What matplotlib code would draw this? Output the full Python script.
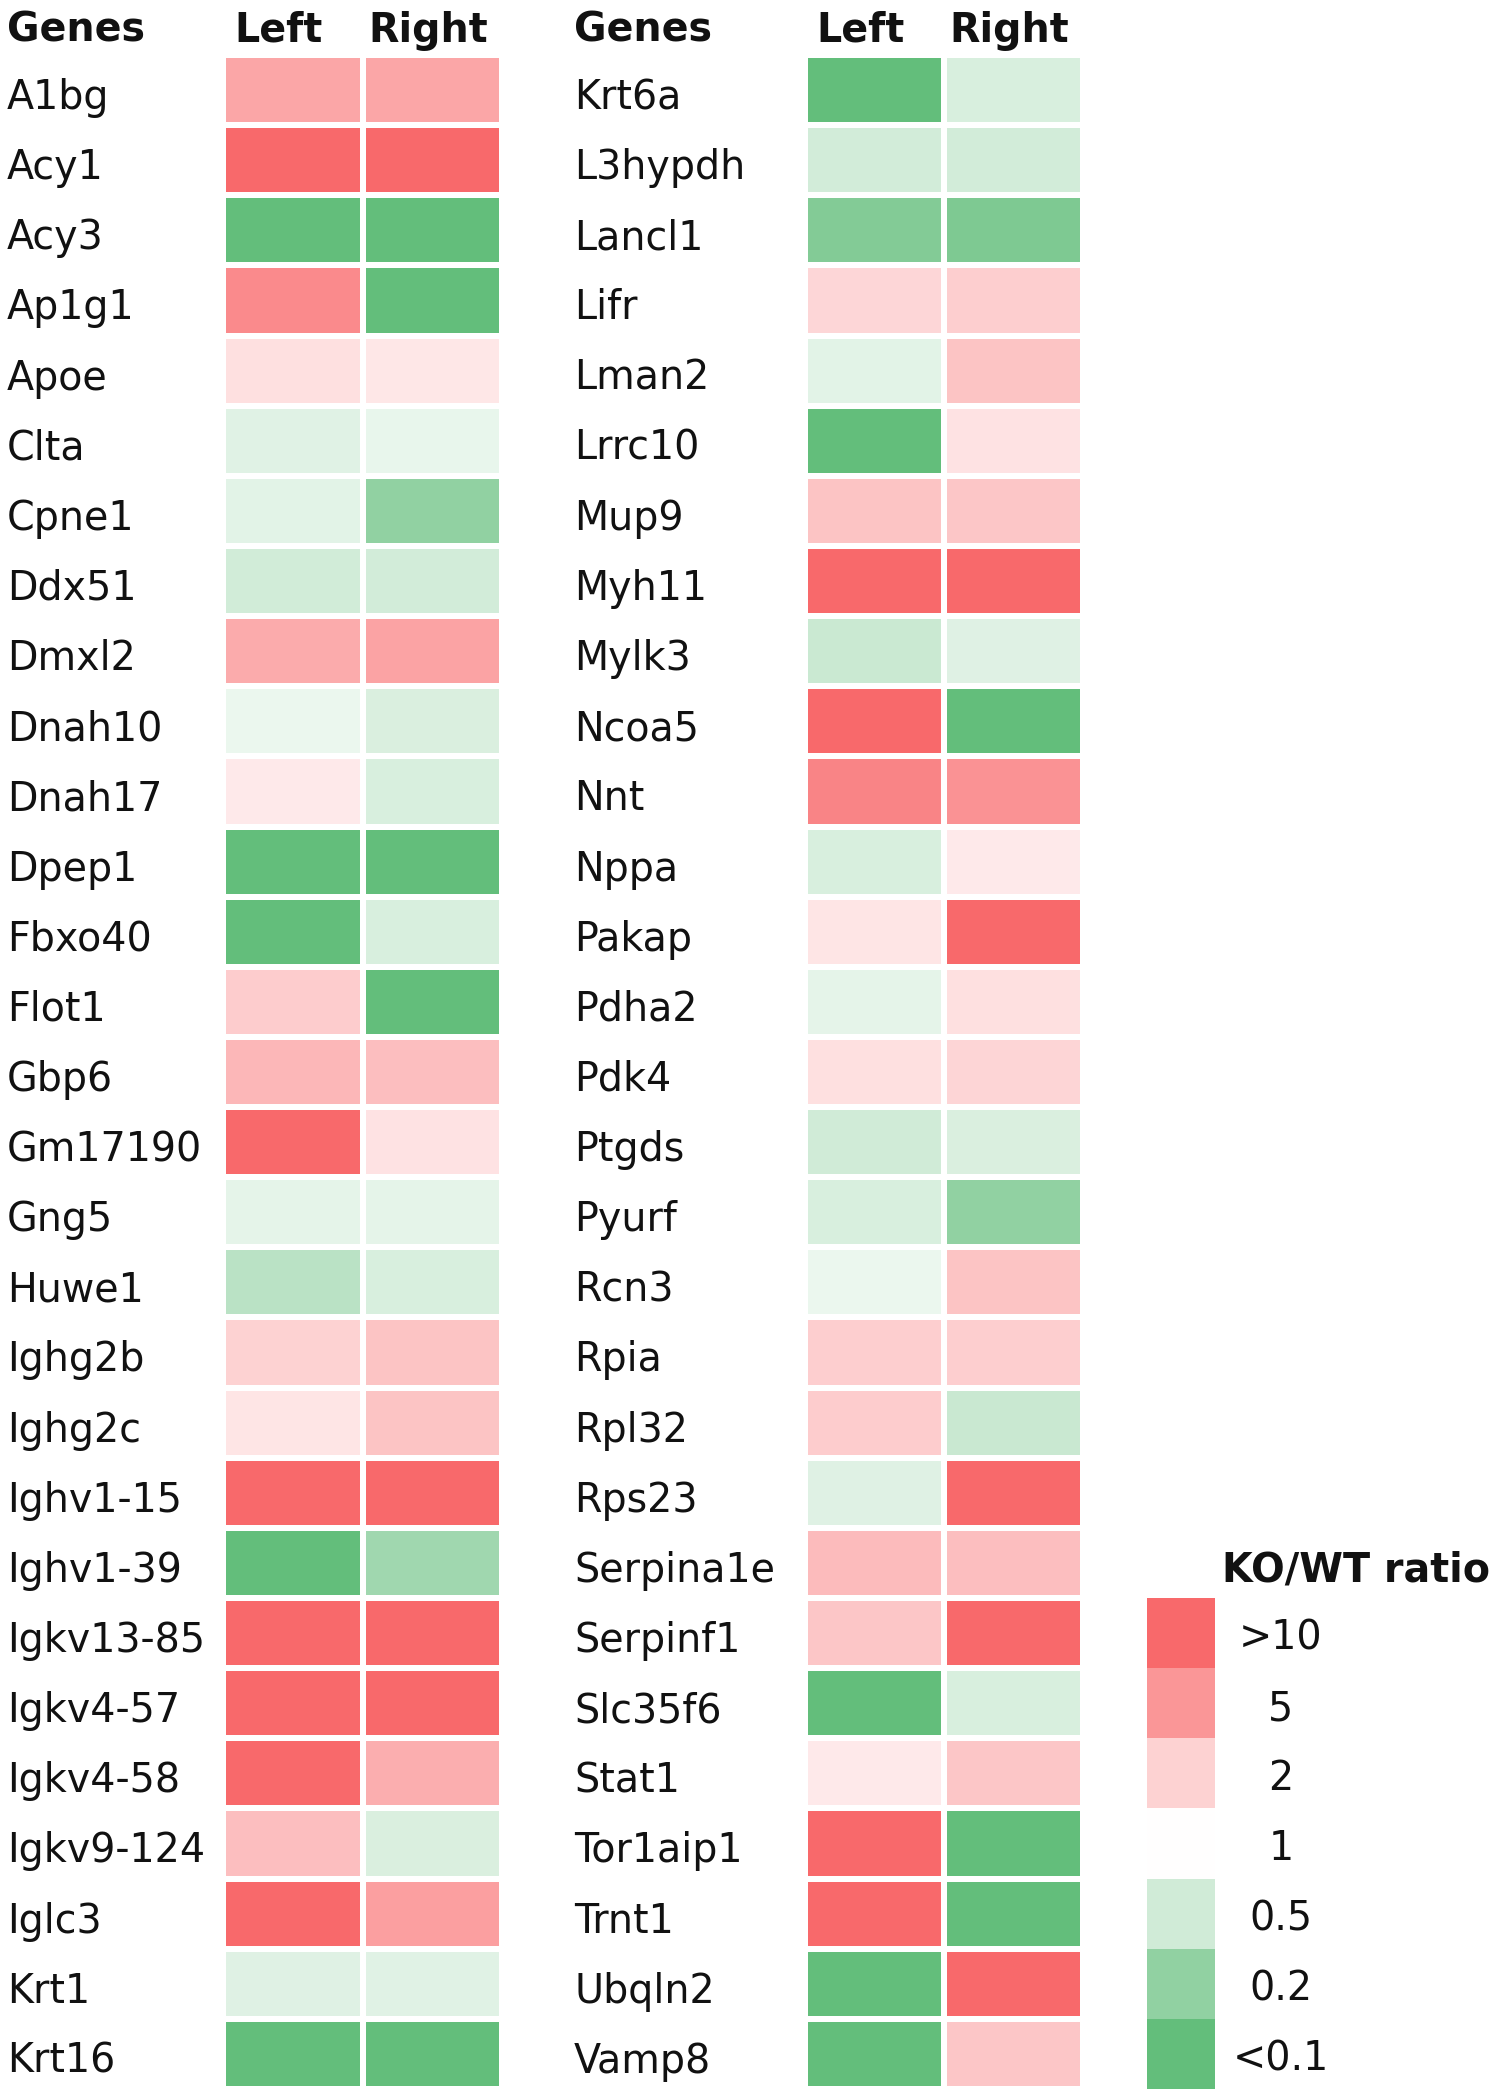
import numpy as np
import matplotlib
matplotlib.use("Agg")
import matplotlib.pyplot as plt
from matplotlib.colors import LinearSegmentedColormap, Normalize
from matplotlib import transforms

# ---------------- data ----------------
genes_a = ["A1bg", "Acy1", "Acy3", "Ap1g1", "Apoe", "Clta", "Cpne1", "Ddx51", "Dmxl2",
           "Dnah10", "Dnah17", "Dpep1", "Fbxo40", "Flot1", "Gbp6", "Gm17190", "Gng5",
           "Huwe1", "Ighg2b", "Ighg2c", "Ighv1-15", "Ighv1-39", "Igkv13-85", "Igkv4-57",
           "Igkv4-58", "Igkv9-124", "Iglc3", "Krt1", "Krt16"]
left_a = [3.9, 12, 0.08, 6.0, 1.6, 0.63, 0.66, 0.51, 3.6,
          0.74, 1.4, 0.08, 0.08, 2.2, 3.0, 12, 0.68,
          0.36, 2.0, 1.5, 12, 0.08, 12, 12,
          12, 2.7, 12, 0.62, 0.08]
right_a = [3.9, 12, 0.08, 0.08, 1.45, 0.72, 0.2, 0.52, 4.1,
           0.58, 0.57, 0.08, 0.57, 0.08, 2.7, 1.55, 0.68,
           0.57, 2.5, 2.5, 12, 0.25, 12, 12,
           3.4, 0.58, 4.3, 0.63, 0.08]

genes_b = ["Krt6a", "L3hypdh", "Lancl1", "Lifr", "Lman2", "Lrrc10", "Mup9", "Myh11", "Mylk3",
           "Ncoa5", "Nnt", "Nppa", "Pakap", "Pdha2", "Pdk4", "Ptgds", "Pyurf", "Rcn3",
           "Rpia", "Rpl32", "Rps23", "Serpina1e", "Serpinf1", "Slc35f6", "Stat1",
           "Tor1aip1", "Trnt1", "Ubqln2", "Vamp8"]
left_b = [0.08, 0.52, 0.16, 1.85, 0.66, 0.08, 2.5, 12, 0.46,
          12, 6.6, 0.57, 1.5, 0.68, 1.6, 0.5, 0.57, 0.74,
          2.1, 2.2, 0.62, 2.8, 2.4, 0.08, 1.4,
          12, 12, 0.08, 0.08]
right_b = [0.57, 0.52, 0.15, 2.1, 2.5, 1.55, 2.4, 12, 0.62,
           0.08, 5.3, 1.4, 12, 1.6, 1.9, 0.58, 0.2, 2.5,
           2.1, 0.45, 12, 2.7, 12, 0.57, 2.4,
           0.08, 0.08, 12, 2.4]

columns = ["Left", "Right"]
legend_values = [10, 5, 2, 1, 0.5, 0.2, 0.1]
legend_labels = [">10", "5", "2", "1", "0.5", "0.2", "<0.1"]
legend_title = "KO/WT ratio"
header_genes = "Genes"

# ---------------- style ----------------
W, H = 1500, 2099
FS = 28.5
plt.rcParams["font.family"] = ["DejaVu Sans"]

cmap = LinearSegmentedColormap.from_list(
    "gwr", ["#63BE7B", "#FFFFFF", "#F8696B"])
norm = Normalize(vmin=-1, vmax=1)


def to_level(v):
    return np.clip(np.log10(np.asarray(v, dtype=float)), -1, 1)


fig = plt.figure(figsize=(W / 100, H / 100), dpi=100)
fig.patch.set_facecolor("white")

top_px, bottom_px = 55, 2089
row_h = (bottom_px - top_px) / 29.0


def fx(px):
    return px / W


def fy(px):
    return 1 - px / H


def panel(x0, x1, label_x, genes, left, right):
    ax = fig.add_axes([fx(x0), fy(bottom_px), fx(x1 - x0), (bottom_px - top_px) / H])
    mat = np.column_stack([to_level(left), to_level(right)])
    ax.pcolormesh(np.arange(3), np.arange(len(genes) + 1), mat, cmap=cmap, norm=norm,
                  edgecolors="white", linewidth=3)
    ax.set_xlim(0, 2)
    ax.set_ylim(len(genes), 0)
    ax.axis("off")
    tr = transforms.blended_transform_factory(fig.transFigure, ax.transData)
    for i, g in enumerate(genes):
        ax.text(fx(label_x), i + 0.77, g, transform=tr, ha="left", va="baseline",
                fontsize=FS, color="#111111")
    ax.text(fx(label_x), -0.19, header_genes, transform=tr, ha="left", va="baseline",
            fontsize=FS, fontweight="bold", color="#111111")
    for j, c in enumerate(columns):
        off = -0.1 if j == 0 else -0.03
        ax.text(j + 0.5 + off, -0.19, c, ha="center", va="baseline",
                fontsize=FS, fontweight="bold", color="#111111")
    return ax


panel(223, 502, 7, genes_a, left_a, right_a)
panel(805, 1083, 574, genes_b, left_b, right_b)

# legend
n = len(legend_values)
lax = fig.add_axes([fx(1147), fy(bottom_px), fx(1215 - 1147), n * row_h / H])
lax.pcolormesh(np.arange(2), np.arange(n + 1),
               to_level(legend_values).reshape(-1, 1), cmap=cmap, norm=norm)
lax.set_xlim(0, 1)
lax.set_ylim(n, 0)
lax.axis("off")
ltr = transforms.blended_transform_factory(fig.transFigure, lax.transData)
for i, lab in enumerate(legend_labels):
    lax.text(fx(1281), i + 0.74, lab, transform=ltr, ha="center", va="baseline",
             fontsize=FS, color="#111111")
lax.text(fx(1222), -0.24, legend_title, transform=ltr, ha="left", va="baseline",
         fontsize=FS, fontweight="bold", color="#111111")

fig.savefig("out.png", dpi=100, facecolor="white")
